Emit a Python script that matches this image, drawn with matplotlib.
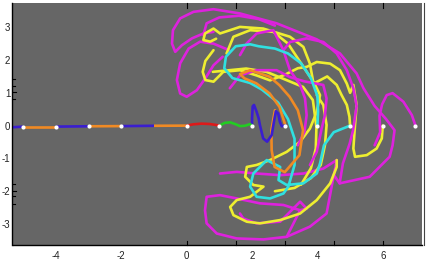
import matplotlib
matplotlib.use("Agg")
import matplotlib.pyplot as plt
from matplotlib.lines import Line2D

# ---------------- data (data units) ----------------
dot_x = [-5, -4, -3, -2, 0, 1, 2, 3, 4, 5, 6, 7]
dot_y = [-0.03, -0.03, -0.02, -0.015, 0, 0, 0, 0, 0, 0, 0, 0]

axis_segments = [  # (x0, x1, y0, y1, colour)
    (-5.33, -5.0, -0.05, -0.03, 'blue'),
    (-5.0, -4.0, -0.03, -0.03, 'orange'),
    (-4.0, -3.0, -0.03, -0.02, 'blue'),
    (-3.0, -2.0, -0.02, -0.015, 'orange'),
    (-2.0, -1.0, -0.015, -0.005, 'blue'),
    (-1.0, 0.0, -0.005, 0.0, 'orange'),
]

red_x = [0.0, 0.2, 0.45, 0.7, 0.9, 1.0]
red_y = [0.0, 0.04, 0.06, 0.05, 0.02, 0.0]

green_x = [1.0, 1.17, 1.33, 1.48, 1.63, 1.78, 1.94, 2.0]
green_y = [0.0, 0.085, 0.1, 0.05, -0.015, -0.005, 0.045, 0.0]

blue_x = [2.0, 2.0, 2.02, 2.06, 2.14, 2.2, 2.24, 2.34, 2.46, 2.6, 2.67, 2.73, 2.8, 2.85, 2.91, 3.0]
blue_y = [0.0, 0.23, 0.59, 0.63, 0.42, 0.23, 0.02, -0.39, -0.49, -0.29, 0.12, 0.44, 0.37, 0.12, -0.02, 0.0]

orange_x = [3.0, 3.0, 2.84, 2.54, 2.13, 1.77, 1.63, 1.94, 2.54, 2.84, 3.15, 3.4, 3.56, 3.45, 3.0, 2.69, 2.6, 2.59, 2.7]
orange_y = [0.0, 0.07, 0.57, 0.98, 1.29, 1.44, 1.57, 1.69, 1.49, 1.23, 0.88, 0.47, -0.14, -0.9, -1.42, -1.26, -0.75, -0.14, 0.47]

cyan_x = [4.0, 4.02, 4.0, 3.8, 3.5, 3.1, 2.7, 2.2, 1.94, 1.5, 1.2, 1.15, 1.4, 1.94, 2.3, 2.8, 3.1, 3.3, 3.3, 3.11,
          2.96, 2.55, 2.14, 1.94, 2.04, 2.45, 2.86, 2.81, 3.06, 3.57, 3.98, 4.08, 4.2, 4.5, 5.0]
cyan_y = [0.0, 0.45, 0.9, 1.45, 1.9, 2.2, 2.35, 2.42, 2.48, 2.42, 2.1, 1.75, 1.45, 1.3, 1.1, 0.7, 0.2, -0.4, -1.2, -1.86,
          -2.07, -2.22, -2.17, -1.86, -1.46, -1.05, -1.26, -1.66, -1.81, -1.76, -1.46, -1.15, -0.6, -0.2, 0.0]

yellow1_x = [5.0, 4.98, 4.9, 4.74, 4.59, 4.3, 3.88, 3.77, 3.57, 3.16, 2.34, 1.63, 1.02, 0.82, 0.56, 0.51, 0.72, 0.9]
yellow1_y = [0.0, 0.27, 0.63, 0.93, 1.24, 1.5, 1.28, 1.89, 2.4, 2.71, 2.96, 3.01, 2.81, 2.96, 2.81, 2.61, 2.56, 2.65]

yellow2_x = [0.82, 0.57, 0.49, 0.57, 0.82, 1.12, 1.63, 2.14, 2.55, 3.0, 3.4, 3.67, 3.98, 4.39, 4.69, 4.9, 5.0, 5.1,
             5.2, 5.15, 5.1, 5.15, 5.51, 5.81, 5.97, 6.0]
yellow2_y = [2.3, 1.97, 1.64, 1.39, 1.34, 1.64, 1.69, 1.53, 1.38, 1.55, 1.75, 1.79, 1.94, 1.89, 1.69, 1.28, 1.0, 1.24,
             0.63, 0.02, -0.7, -0.95, -0.9, -0.7, -0.39, 0.0]

yellow3_x = [1.22, 1.43, 1.94, 2.65, 3.1, 3.5, 3.9, 4.08, 3.98, 3.77, 3.47, 3.06, 2.55, 2.14, 1.84, 1.79, 2.04, 2.35,
             1.94, 1.53, 1.33, 1.43, 1.84, 2.24, 2.86, 3.47, 3.98, 4.39, 4.59, 4.59]
yellow3_y = [2.2, 2.71, 2.91, 2.86, 2.5, 1.9, 1.3, 0.93, 0.42, -0.09, -0.49, -0.8, -1.05, -1.2, -1.26, -1.56, -1.81, -1.86,
             -2.17, -2.27, -2.48, -2.73, -2.93, -2.98, -2.88, -2.68, -2.27, -1.76, -1.26, -1.05]

yellow4_x = [0.8, 1.31, 1.82, 2.44, 3.05, 3.56, 3.86, 3.97, 3.95, 3.8, 3.5]
yellow4_y = [1.64, 1.69, 1.74, 1.64, 1.39, 1.18, 0.78, -0.04, -0.7, -1.3, -1.8]

yellow5_x = [3.98, 4.18, 4.28, 4.23, 4.1, 3.8, 3.3, 2.7]
yellow5_y = [0.93, 0.63, 0.02, -0.6, -1.2, -1.6, -1.9, -2.0]

mag1_x = [0.82, 0.51, 0.16, -0.15, -0.35, -0.45, -0.42, -0.2, 0.21, 0.82, 1.63, 2.75, 3.98, 4.69, 5.2, 5.41,
          5.75, 6.1, 6.36, 6.3, 6.21, 5.6, 4.68, 4.5]
mag1_y = [2.86, 2.81, 2.66, 2.45, 2.25, 2.5, 2.91, 3.27, 3.47, 3.55, 3.42, 3.12, 2.63, 2.2, 1.59, 1.14,
          0.6, 0.2, -0.14, -0.6, -0.95, -1.56, -1.76, -1.5]

mag2_x = [1.3, 0.82, 0.41, 0.06, -0.2, -0.3, -0.2, 0.0, 0.31, 0.57, 0.82, 1.1]
mag2_y = [2.3, 2.5, 2.56, 2.35, 1.9, 1.39, 0.98, 0.88, 1.08, 1.44, 1.84, 2.1]

mag3_x = [2.96, 3.16, 3.67, 4.18, 4.59, 4.9, 5.1, 5.2, 5.09, 4.99, 4.78, 4.68]
mag3_y = [2.3, 2.55, 2.66, 2.55, 2.2, 1.69, 1.14, 0.6, -0.14, -0.54, -1.15, -1.76]

hook_x = [5.75, 5.92, 5.9, 5.98, 6.12, 6.3, 6.63, 6.89, 7.0]
hook_y = [-0.6, -0.2, 0.3, 0.65, 0.93, 0.99, 0.73, 0.32, 0.0]

mag4_x = [3.47, 3.06, 2.35, 1.53, 0.92, 0.61, 0.56, 0.61, 1.02, 1.53, 2.24, 2.96, 3.47, 3.67, 3.47, 2.86, 2.14, 1.73, 1.63]
mag4_y = [-2.58, -3.39, -3.47, -3.44, -3.29, -2.98, -2.58, -2.17, -2.12, -2.22, -2.37, -2.42, -2.58, -2.53, -2.32, -2.93, -2.98, -2.83, -2.68]

mag5_x = [1.02, 1.53, 2.14, 2.86, 3.57, 4.18, 4.59, 4.28, 3.77, 3.06]
mag5_y = [-1.46, -1.41, -1.46, -1.51, -1.46, -1.31, -1.05, -2.68, -3.08, -3.39]

mag6_x = [0.51, 0.61, 1.0, 1.6, 2.2, 2.7]
mag6_y = [2.76, 3.12, 3.3, 3.35, 3.25, 3.05]

mag7_x = [1.63, 1.83, 2.14, 2.65, 2.96, 3.06, 3.16, 3.47, 3.62, 3.67, 3.6, 3.4]
mag7_y = [2.15, 2.5, 2.81, 2.91, 2.3, 1.99, 1.69, 1.24, 0.83, 0.32, -0.2, -0.6]

mag8_x = [1.32, 1.63, 2.14, 2.75, 3.16, 3.6, 4.18, 4.28, 4.23, 4.13, 3.98, 3.77]
mag8_y = [1.14, 1.53, 1.69, 1.69, 1.48, 1.35, 1.24, 0.83, 0.32, -0.09, -0.8, -1.2]

# ---------------- drawing ----------------
C = {'blue': '#3a1ed0', 'orange': '#f08a24', 'red': '#dd1a1a', 'green': '#22cc22',
     'cyan': '#30e0e0', 'yellow': '#eeee30', 'magenta': '#dd22dd'}
LW = 1.9

fig = plt.figure(figsize=(4.27, 2.61), dpi=100)
ax = fig.add_axes([12.5 / 427, 1 - 245 / 261, (422 - 12.5) / 427, (245 - 3.3) / 261])
ax.set_facecolor('#666666')
ax.set_xlim(-5.33, 7.2)
ax.set_ylim(-3.64, 3.73)

for x0, x1, y0, y1, c in axis_segments:
    ax.plot([x0, x1], [y0, y1], color=C[c], lw=LW, solid_capstyle='butt')

curves = [
    (mag5_x, mag5_y, 'magenta'), (mag4_x, mag4_y, 'magenta'), (mag2_x, mag2_y, 'magenta'),
    (mag1_x, mag1_y, 'magenta'), (mag6_x, mag6_y, 'magenta'),
    (yellow5_x, yellow5_y, 'yellow'), (yellow4_x, yellow4_y, 'yellow'),
    (yellow3_x, yellow3_y, 'yellow'), (yellow2_x, yellow2_y, 'yellow'), (yellow1_x, yellow1_y, 'yellow'),
    (mag7_x, mag7_y, 'magenta'), (mag8_x, mag8_y, 'magenta'), (mag3_x, mag3_y, 'magenta'),
    (hook_x, hook_y, 'magenta'),
    (cyan_x, cyan_y, 'cyan'), (orange_x, orange_y, 'orange'), (blue_x, blue_y, 'blue'),
    (green_x, green_y, 'green'), (red_x, red_y, 'red'),
]
for xs, ys, c in curves:
    ax.plot(xs, ys, color=C[c], lw=LW, solid_joinstyle='round', solid_capstyle='round')

ax.scatter(dot_x, dot_y, s=9, color='white', zorder=5, linewidths=0)

for s in ['top', 'right']:
    ax.spines[s].set_visible(False)
ax.spines['left'].set_linewidth(1.0)
ax.spines['bottom'].set_linewidth(1.0)

ax.set_xticks([-4, -2, 0, 2, 4, 6])
ax.set_xticklabels(['-4', '-2', '0', '2', '4', '6'])
ax.set_yticks([-3, -2, -1, 0, 1, 2, 3])
ax.set_yticklabels(['-3', '-2', '-1', '0', '1', '2', '3'])
ax.tick_params(axis='x', length=0, labelsize=7, pad=4, colors='#222222')
ax.tick_params(axis='y', length=0, labelsize=7, pad=1.5, colors='#222222')
for lab in ax.get_xticklabels() + ax.get_yticklabels():
    lab.set_fontfamily('Liberation Sans')

# small inward frame ticks
for xv in [0, 1.5, 3, 4.5, 6]:
    ax.plot([xv, xv], [3.73, 3.6], color='black', lw=0.8, clip_on=False)
    ax.plot([xv, xv], [-3.64, -3.52], color='black', lw=0.8, clip_on=False)
for yv, ln in [(1.43, 0.07), (1.22, 0.07), (1.04, 0.12), (0.82, 0.07),
               (-1.77, 0.07), (-1.98, 0.12), (-2.16, 0.07), (-2.38, 0.07)]:
    ax.plot([-5.33, -5.33 + ln], [yv, yv], color='black', lw=0.8, clip_on=False)

# separate right frame line
fig.add_artist(Line2D([424 / 427, 424 / 427], [1 - 245 / 261, 1 - 3 / 261], color='#444444', lw=0.8))

fig.savefig('out.png', dpi=100, facecolor='white')
